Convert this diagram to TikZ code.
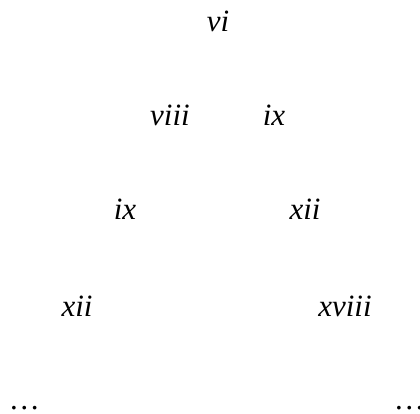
\documentclass[tikz,border=0pt]{standalone}
\usepackage{fontspec}
\setmainfont{Liberation Serif}
\usepackage{tikz}
\usetikzlibrary{positioning}

\tikzset{
  term/.style={font=\fontsize{31}{37}\selectfont\itshape, anchor=base, inner sep=0pt}
}

\begin{document}
\begin{tikzpicture}[x=1pt,y=1pt]
  \useasboundingbox (0,0) rectangle (420,414);
  % rows of the tree, top to bottom
  \node[term] (r) at (218,382) {vi};
  \node[term] (a1) at (170,288) {viii};
  \node[term] (a2) at (274,288) {ix};
  \node[term] (b1) at (125,194) {ix};
  \node[term] (b2) at (305,194) {xii};
  \node[term] (c1) at (77,97) {xii};
  \node[term] (c2) at (345,97) {xviii};
  \node[term] (d1) at (25,4) {\ldots};
  \node[term] (d2) at (410,4) {\ldots};
\end{tikzpicture}
\end{document}
